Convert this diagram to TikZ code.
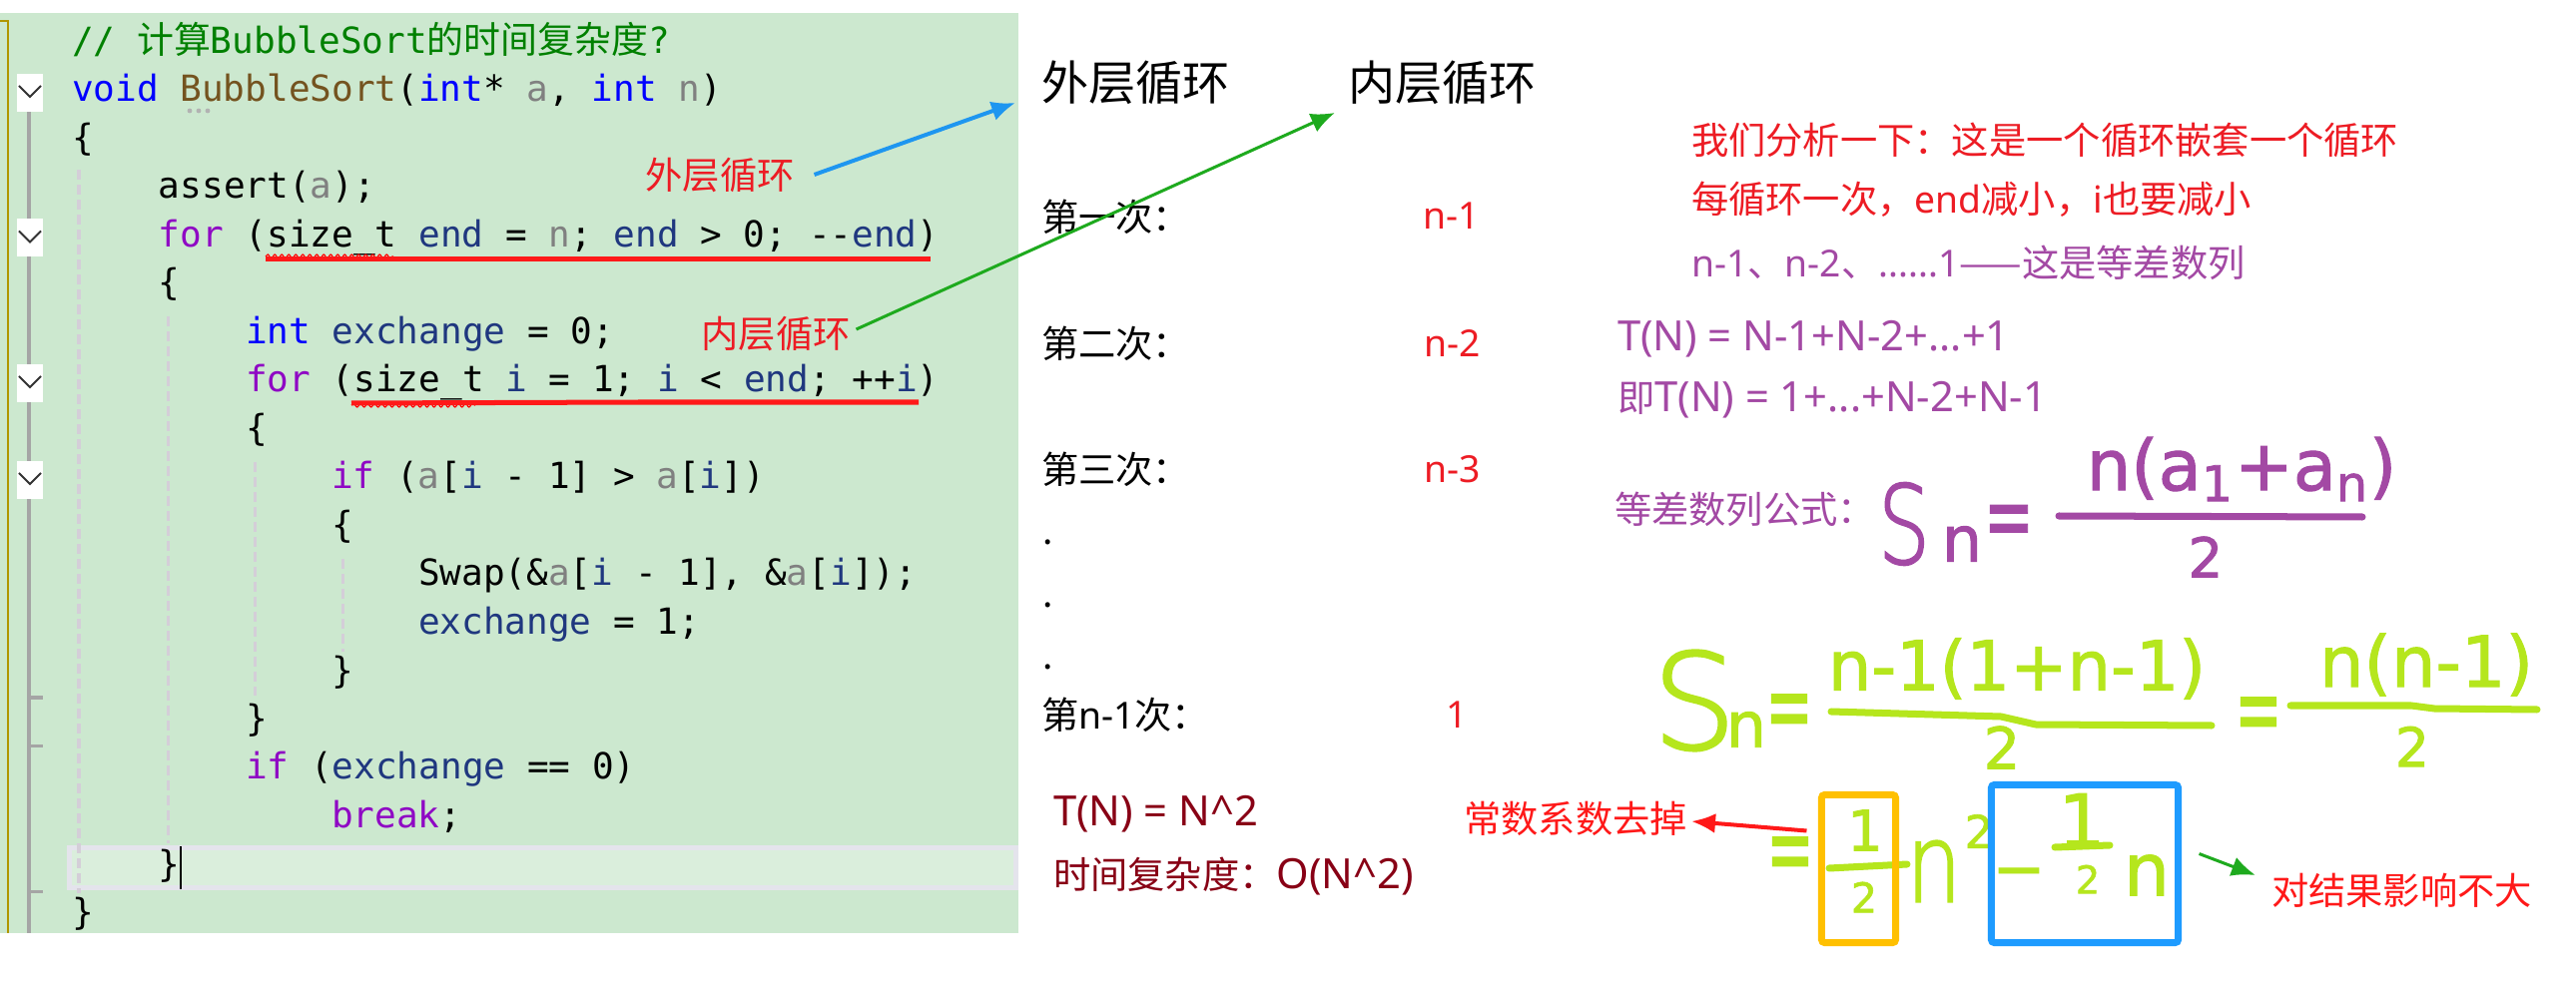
\documentclass[tikz,border=0pt]{standalone}
\usepackage{xcolor}
\usepackage{fontspec}
\usepackage{tikz}
\usetikzlibrary{arrows.meta, positioning, decorations.pathmorphing}
\setmainfont{Noto Sans CJK SC}
\setmonofont{DejaVu Sans Mono}
\newfontfamily\cjk{Noto Sans CJK SC}
\newfontfamily\lat{Noto Sans}
\newfontfamily\latw[Scale=1.12]{Noto Sans}
\newfontfamily\hand[FakeBold=1.5]{DejaVu Sans}
\newfontfamily\handlight[FakeBold=2]{DejaVu Sans ExtraLight}
\definecolor{idegreen}{RGB}{204,232,207}
\definecolor{curline}{RGB}{218,238,220}
\definecolor{curframe}{RGB}{228,228,236}
\definecolor{kwblue}{RGB}{0,0,255}
\definecolor{ctlpurple}{RGB}{143,8,196}
\definecolor{fnbrown}{RGB}{116,83,31}
\definecolor{pargray}{RGB}{128,128,128}
\definecolor{vardark}{RGB}{31,55,127}
\definecolor{comgreen}{RGB}{0,128,0}
\definecolor{foldgray}{RGB}{165,165,165}
\definecolor{guidegray}{RGB}{212,206,216}
\definecolor{gutterolive}{RGB}{176,150,0}
\definecolor{notered}{RGB}{237,28,36}
\definecolor{notepurple}{RGB}{163,73,164}
\definecolor{notedark}{RGB}{136,0,21}
\definecolor{inkred}{RGB}{255,25,25}
\definecolor{inklime}{RGB}{181,230,29}
\definecolor{inkpurple}{RGB}{163,73,164}
\definecolor{inkorange}{RGB}{255,192,0}
\definecolor{inkblue}{RGB}{30,155,255}
\definecolor{arrowblue}{RGB}{30,150,240}
\definecolor{arrowgreen}{RGB}{30,170,30}
\newcommand{\cdkw}[1]{\textcolor{kwblue}{#1}}
\newcommand{\cdctl}[1]{\textcolor{ctlpurple}{#1}}
\newcommand{\cdfn}[1]{\textcolor{fnbrown}{#1}}
\newcommand{\cdpar}[1]{\textcolor{pargray}{#1}}
\newcommand{\cdvar}[1]{\textcolor{vardark}{#1}}

\begin{document}
\begin{tikzpicture}[x=0.01cm, y=-0.01cm,
    codeline/.style={anchor=base west, inner sep=0, outer sep=0,
                     font=\ttfamily\fontsize{10.25}{12}\selectfont},
    notetxt/.style={anchor=west, inner sep=0, outer sep=0, font=\fontsize{10.6}{13}\selectfont},
    headtxt/.style={anchor=west, inner sep=0, outer sep=0, font=\fontsize{13.4}{16}\selectfont},
    hwl/.style={inner sep=0, outer sep=0, text=inklime, font=\hand\fontsize{#1}{#1}\selectfont},
    hwp/.style={inner sep=0, outer sep=0, text=inkpurple, font=\hand\fontsize{#1}{#1}\selectfont},
    bigl/.style={inner sep=0, outer sep=0, text=inklime, font=\handlight\fontsize{#1}{#1}\selectfont},
    bigp/.style={inner sep=0, outer sep=0, text=inkpurple, font=\handlight\fontsize{#1}{#1}\selectfont},
    inkline/.style={line width=0.07cm, line cap=round, line join=round},
    inkbox/.style={draw, line width=0.07cm, rounded corners=0.03cm, inner sep=0, outer sep=0},
    guideline/.style={guidegray, line width=0.03cm, dash pattern=on 0.1cm off 0.05cm},
    foldtick/.style={foldgray, line width=0.03cm},
    chevron/.style={black!80, line width=0.02cm},
    arrow/.style={-{Latex[length=0.24cm, width=0.2cm]}, line width=0.04cm}]

\fill[white] (0,0) rectangle (2580,988);
\useasboundingbox (0,0) rectangle (2580,988);

% Editor panel
\fill[idegreen] (0,13) rectangle (1020,935);
\filldraw[fill=curline, draw=curframe, line width=0.05cm] (69.5,849.5) rectangle (1017.5,889.5);
\draw[guideline] (79,170) -- (79,895);
\draw[guideline] (168,317) -- (168,845);
\draw[guideline] (255,463) -- (255,697);
\draw[guideline] (343,560) -- (343,653);
\draw[black, line width=0.025cm] (181,848) -- (181,891);

% Gutter
\draw[gutterolive, line width=0.025cm] (0,21) -- (8,21) -- (8,935);
\draw[foldgray, line width=0.03cm] (29,112) -- (29,935);
\fill[white] (17,74) rectangle (43,112);
\fill[white] (17,219.5) rectangle (43,257.5);
\fill[white] (17,365) rectangle (43,403);
\fill[white] (17,462) rectangle (43,500);
\draw[chevron] (19,86) -- (30,97) -- (41,86);
\draw[chevron] (19,231.5) -- (30,242.5) -- (41,231.5);
\draw[chevron] (19,377) -- (30,388) -- (41,377);
\draw[chevron] (19,474) -- (30,485) -- (41,474);
\draw[foldtick] (29,699) -- (43,699);
\draw[foldtick] (29,747) -- (43,747);
\draw[foldtick] (29,893) -- (43,893);

% Code
\node (l1)  [codeline] at (72,54)    {\textcolor{comgreen}{// {\cjk\fontsize{10.5}{12}\selectfont 计算}BubbleSort{\cjk\fontsize{10.5}{12}\selectfont 的时间复杂度}?}};
\node (l2)  [codeline] at (72,102)   {\cdkw{void} \cdfn{BubbleSort}(\cdkw{int}* \cdpar{a}, \cdkw{int} \cdpar{n})};
\node (l3)  [codeline] at (72,150.5) {\{};
\node (l4)  [codeline] at (159,199)  {assert(\cdpar{a});};
\node (l5)  [codeline] at (159,247.5) {\cdctl{for} (size\_t \cdvar{end} = \cdpar{n}; \cdvar{end} > 0; -{}-\cdvar{end})};
\node (l6)  [codeline] at (159,296)  {\{};
\node (l7)  [codeline] at (246,344.5) {\cdkw{int} \cdvar{exchange} = 0;};
\node (l8)  [codeline] at (246,393)  {\cdctl{for} (size\_t \cdvar{i} = 1; \cdvar{i} < \cdvar{end}; ++\cdvar{i})};
\node (l9)  [codeline] at (246,441.5) {\{};
\node (l10) [codeline] at (332,490)  {\cdctl{if} (\cdpar{a}[\cdvar{i} - 1] > \cdpar{a}[\cdvar{i}])};
\node (l11) [codeline] at (332,538.5) {\{};
\node (l12) [codeline] at (419,587)  {Swap(\&\cdpar{a}[\cdvar{i} - 1], \&\cdpar{a}[\cdvar{i}]);};
\node (l13) [codeline] at (419,635.5) {\cdvar{exchange} = 1;};
\node (l14) [codeline] at (332,684)  {\}};
\node (l15) [codeline] at (246,732.5) {\}};
\node (l16) [codeline] at (246,781)  {\cdctl{if} (\cdvar{exchange} == 0)};
\node (l17) [codeline] at (332,829.5) {\cdctl{break};};
\node (l18) [codeline] at (159,878)  {\}};
\node (l19) [codeline] at (72,926.5) {\}};
\fill[black!30] (190,111) circle (2.4) (199,111) circle (2.4) (208,111) circle (2.4);

% Squiggles and pen underlines
\draw[red, line width=0.012cm, decorate, decoration={snake, amplitude=0.02cm, segment length=0.07cm}] (266,257) -- (394,257);
\draw[red, line width=0.012cm, decorate, decoration={snake, amplitude=0.02cm, segment length=0.07cm}] (352,406) -- (476,406);
\draw[inkred, line width=0.05cm] (266,260) -- (932,260);
\draw[inkred, line width=0.05cm] (352,404) -- (640,403) -- (920,403);

% Pen labels in the code
\node (lblouter) [notetxt, anchor=center, text=notered] at (721,175) {外层循环};
\node (lblinner) [notetxt, anchor=center, text=notered] at (777,335) {内层循环};

% Count of runs
\node (hdouter) [headtxt] at (1043,83) {外层循环};
\node (hdinner) [headtxt] at (1350,83) {内层循环};
\node (run1)  [notetxt] at (1043,217) {第一次：};
\node (run2)  [notetxt] at (1043,344) {第二次：};
\node (run3)  [notetxt] at (1043,470) {第三次：};
\node (dot1)  [anchor=base west, inner sep=0, font=\fontsize{10.6}{13}\selectfont] at (1044,546) {.};
\node (dot2)  [anchor=base west, inner sep=0, font=\fontsize{10.6}{13}\selectfont] at (1044,608) {.};
\node (dot3)  [anchor=base west, inner sep=0, font=\fontsize{10.6}{13}\selectfont] at (1044,670) {.};
\node (runn)  [notetxt] at (1043,716) {第{\lat n-1}次：};
\node (cnt1)  [notetxt, anchor=center, text=notered, font=\lat\fontsize{10.6}{13}\selectfont] at (1454,216) {n-1};
\node (cnt2)  [notetxt, anchor=center, text=notered, font=\lat\fontsize{10.6}{13}\selectfont] at (1455,344) {n-2};
\node (cnt3)  [notetxt, anchor=center, text=notered, font=\lat\fontsize{10.6}{13}\selectfont] at (1455,470) {n-3};
\node (cntn)  [notetxt, anchor=center, text=notered, font=\lat\fontsize{10.6}{13}\selectfont] at (1459,716) {1};
\node (tn)    [notetxt, text=notedark, font=\latw\fontsize{10.6}{13}\selectfont] at (1055,816) {T(N) = N\textasciicircum 2};
\node (bigo)  [notetxt, text=notedark] at (1055,878) {时间复杂度：{\latw O(N\textasciicircum 2)}};

% Analysis
\node (ana1) [notetxt, text=notered] at (1694,140) {我们分析一下：这是一个循环嵌套一个循环};
\node (ana2) [notetxt, text=notered] at (1694,200) {每循环一次，{\lat end}减小，{\lat i}也要减小};
\node (ana3) [notetxt, text=notepurple] at (1694,263) {{\lat n-1}、{\lat n-2}、{\lat ......1}——这是等差数列};
\node (sum1) [notetxt, text=notepurple, font=\latw\fontsize{10.6}{13}\selectfont] at (1620,340) {T(N) = N-1+N-2+...+1};
\node (sum2) [notetxt, text=notepurple] at (1620,401) {即{\latw T(N) = 1+...+N-2+N-1}};
\node (apf)  [notetxt, text=notepurple] at (1617,510) {等差数列公式：};

% Purple formula
\node (pS)   [bigp=31, xscale=0.75] at (1907,525) {S};
\node (pn)   [hwp=18] at (1965,545) {n};
\node (peq)  [hwp=17, yscale=1.6] at (2012,528) {=};
\node (pnum) [hwp=20] at (2245,470) {n(a\textsubscript{1}+a\textsubscript{n})};
\node (pden) [hwp=15.6] at (2209,558) {2};
\draw[inkline, inkpurple] (2062,517) -- (2366,518);

% Green formula
\node (gS)    [bigl=37.8] at (1697,702) {S};
\node (gn)    [hwl=18] at (1749,731) {n};
\node (geq1)  [hwl=16, yscale=1.8] at (1792,719) {=};
\node (gnum1) [hwl=19.5] at (2020,670) {n-1(1+n-1)};
\node (gden1) [hwl=16.4] at (2005,749) {2};
\draw[inkline, inklime] (1834,713) -- (2004,718) -- (2039,726) -- (2215,727);
\node (geq2)  [hwl=16, yscale=1.8] at (2262,722) {=};
\node (gnum2) [hwl=20] at (2430,666) {n(n-1)};
\node (gden2) [hwl=15.4] at (2416,748) {2};
\draw[inkline, inklime] (2294,707) -- (2415,707) -- (2438,710) -- (2541,711);

\node (geq3)  [hwl=16, yscale=1.8] at (1793,862) {=};
\node (ghalf) [hwl=16] at (1868,832) {1};
\draw[inkline, inklime] (1832,870) -- (1910,866);
\node (gtwo)  [hwl=11.7] at (1867,899) {2};
\node (gnn)   [bigl=31, xscale=0.8] at (1937,873) {n};
\node (gsq)   [hwl=12.9] at (1982,833) {2};
\node (gmin)  [hwl=18] at (2022,881) {−};
\node (gone)  [hwl=21] at (2085,822) {1};
\draw[inkline, inklime] (2058,849) -- (2113,847);
\node (gtwob) [hwl=10.9] at (2091,881) {2};
\node (gnb)   [hwl=20.7] at (2150,877) {n};

\node (obox) [inkbox, draw=inkorange, minimum width=0.74cm, minimum height=1.48cm] at (1861.5,870.5) {};
\node (bbox) [inkbox, draw=inkblue, minimum width=1.87cm, minimum height=1.58cm] at (2088,865.5) {};

% Side notes
\node (dropconst) [notetxt, anchor=east, text=inkred] at (1690,820) {常数系数去掉};
\node (minor)     [notetxt, text=inkred] at (2275,892) {对结果影响不大};

% Arrows
\draw [arrow, arrowblue] ([shift={(20,0)}]lblouter.east) -- ([shift={(-26,20)}]hdouter.west);
\draw [arrow, arrowgreen, line width=0.03cm] ([shift={(6,-5)}]lblinner.east) -- ([shift={(-13,30)}]hdinner.west);
\draw [arrow, inkred] ([shift={(-15,-38)}]obox.west) -- ([shift={(4,3)}]dropconst.east);
\draw [arrow, arrowgreen, line width=0.03cm] ([shift={(21,-10)}]bbox.east) -- ([shift={(-16,-15)}]minor.west);
\end{tikzpicture}
\end{document}
